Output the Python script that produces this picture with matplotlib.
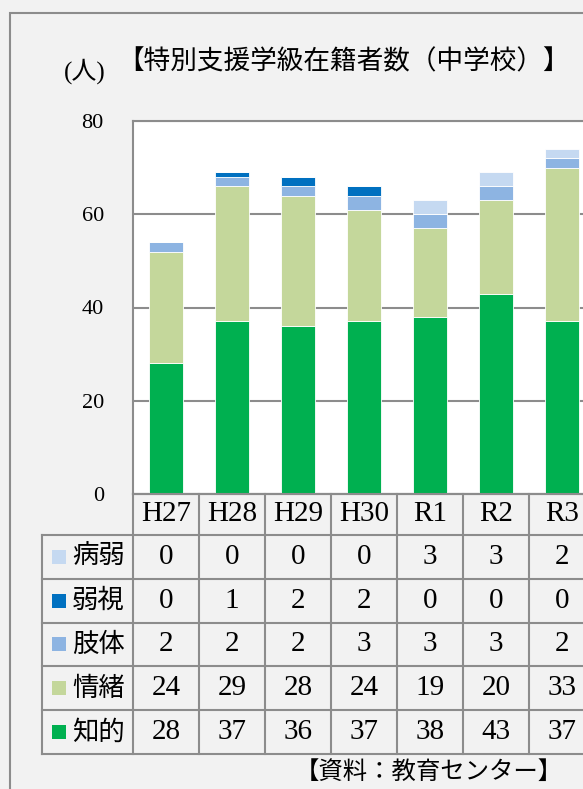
import matplotlib
matplotlib.use("Agg")
import matplotlib.pyplot as plt
from matplotlib.patches import Rectangle

# data (people)
years = ["H27", "H28", "H29", "H30", "R1", "R2", "R3"]
chiteki = [28, 37, 36, 37, 38, 43, 37]
jocho = [24, 29, 28, 24, 19, 20, 33]
shitai = [2, 2, 2, 3, 3, 3, 2]
jakushi = [0, 1, 2, 2, 0, 0, 0]
byojaku = [0, 0, 0, 0, 3, 3, 2]

series = [("知的", chiteki, "#00b050"),
          ("情緒", jocho, "#c4d79b"),
          ("肢体", shitai, "#8db4e2"),
          ("弱視", jakushi, "#0070c0"),
          ("病弱", byojaku, "#c5d9f1")]

JP = ["Noto Sans CJK JP", "DejaVu Sans"]
NUM = "Liberation Serif"
GRAY = "#8c8c8c"
BG = "#f2f2f2"

W, H = 583, 789
fig = plt.figure(figsize=(W / 100, H / 100), dpi=100, facecolor=BG)

def fy(py):
    return 1 - py / H

# outer frame (cropped on right/bottom)
fig.add_artist(Rectangle((10 / W, fy(900)), 2, 887 / H,
                         transform=fig.transFigure, fill=False,
                         edgecolor=GRAY, lw=1.5))

# bar chart
colw = 66
ax = fig.add_axes([133 / W, fy(494), colw * 7 / W, 373 / H])
ax.set_facecolor("white")
x = list(range(len(years)))
bottom = [0] * len(years)
for name, vals, col in series:
    ax.bar(x, vals, width=0.52, bottom=bottom, color=col,
           edgecolor="white", linewidth=0.6, zorder=3)
    bottom = [b + v for b, v in zip(bottom, vals)]
ax.set_xlim(-0.5, 6.5)
ax.set_ylim(0, 80)
ax.set_yticks([0, 20, 40, 60, 80])
ax.set_xticks([])
ax.yaxis.grid(True, color=GRAY, lw=1.5, zorder=1)
ax.tick_params(axis="y", length=0, pad=21, labelsize=16)
for lab in ax.get_yticklabels():
    lab.set_fontfamily(NUM)
for sp in ax.spines.values():
    sp.set_color(GRAY)
    sp.set_linewidth(1.5)

# title
fig.text(64 / W, fy(71), "(人)", fontsize=18,
         family=["Liberation Serif", "Noto Sans CJK JP"], va="center",
         ha="left")
fig.text(117 / W, fy(62), "【特別支援学級在籍者数（中学校）】", fontsize=19.2,
         family=JP, va="center", ha="left")

# data table under the chart
legw = 91 / colw
hdr = 41 / 44
tax = fig.add_axes([42 / W, fy(754), (91 + colw * 7) / W, 260 / H])
tax.set_xlim(-0.5 - legw, 6.5)
tax.set_ylim(hdr + 5, 0)
tax.axis("off")

lk = dict(color=GRAY, lw=1.5, clip_on=False, solid_capstyle="projecting")
for k in range(6):
    tax.plot([-0.5 - legw, 6.5], [hdr + k, hdr + k], **lk)
tax.plot([-0.5, 6.5], [0, 0], **lk)
tax.plot([-0.5 - legw] * 2, [hdr, hdr + 5], **lk)
for i in range(8):
    tax.plot([i - 0.5] * 2, [0, hdr + 5], **lk)

for i, yr in enumerate(years):
    tax.text(i, hdr / 2, yr, ha="center", va="center", fontsize=21,
             family=NUM, clip_on=False)

for r, (name, vals, col) in enumerate(series[::-1]):
    yc = hdr + r + 0.5
    tax.scatter([-0.5 - legw + 17 / colw], [yc], marker="s", s=100,
                color=col, clip_on=False, linewidths=0)
    tax.text(-0.5 - legw + 30 / colw, yc, name, ha="left", va="center",
             fontsize=19, family=JP)
    for i, v in enumerate(vals):
        tax.text(i, yc, str(v), ha="center", va="center", fontsize=21,
                 family=NUM, clip_on=False)

fig.text(563 / W, fy(772), "【資料：教育センター】", fontsize=17.6, family=JP,
         ha="right", va="center")

fig.savefig("out.png", dpi=100, facecolor=BG)
